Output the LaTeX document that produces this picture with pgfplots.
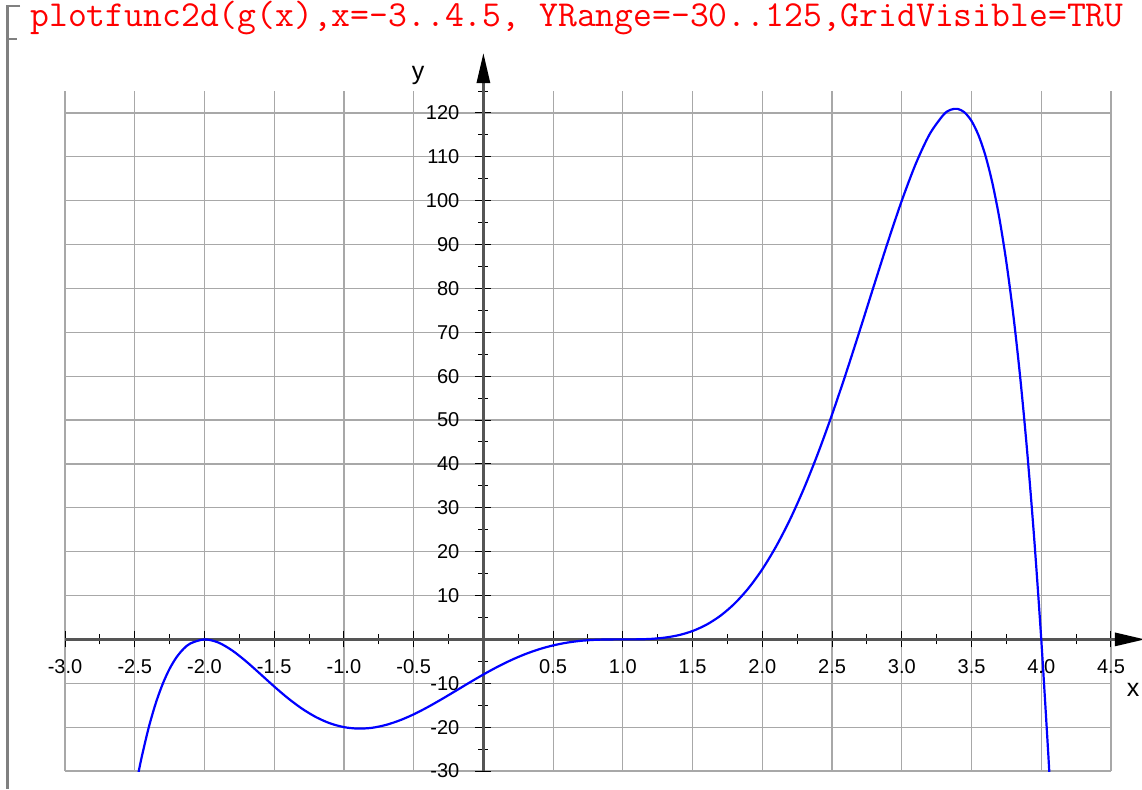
\documentclass[border=0pt]{standalone}
\usepackage{pgfplots}
\pgfplotsset{compat=1.18}
\usepackage{fontspec}
\setmainfont{Liberation Sans}
\usetikzlibrary{arrows.meta}
\definecolor{gridc}{HTML}{A8A8A8}
\definecolor{axc}{HTML}{555555}
\definecolor{brk}{HTML}{808080}
\begin{document}
\begin{tikzpicture}
\path[use as bounding box] (0,0) rectangle (571pt,394.5pt);
\draw[brk, line width=1.3pt] (10pt,391.5pt) -- (3.7pt,391.5pt) -- (3.7pt,0pt);
\draw[brk, line width=1.3pt] (3.7pt,375pt) -- (8.5pt,375pt);
\node[anchor=base west, inner sep=0pt, text=red, font=\ttfamily\fontsize{18.3}{20}\selectfont] at (15pt,381pt) {plotfunc2d(g(x),x=-3..4.5, YRange=-30..125,GridVisible=TRU};
\begin{axis}[
  at={(32.5pt,9pt)}, anchor=south west,
  width=523pt, height=340pt, scale only axis,
  xmin=-3, xmax=4.5, ymin=-30, ymax=125,
  enlargelimits=false,
  axis lines=middle,
  x axis line style={axc, line width=1.4pt, -{Triangle[length=15pt,width=6.5pt,black]}, shorten >=-17pt},
  y axis line style={axc, line width=1.4pt, -{Triangle[length=15pt,width=6.5pt,black]}, shorten >=-19pt},
  xtick={-3,-2.5,-2,-1.5,-1,-0.5,0.5,1,1.5,2,2.5,3,3.5,4,4.5},
  xticklabels={-3.0,-2.5,-2.0,-1.5,-1.0,-0.5,0.5,1.0,1.5,2.0,2.5,3.0,3.5,4.0,4.5},
  minor xtick={-2.75,-2.25,-1.75,-1.25,-0.75,-0.25,0.25,0.75,1.25,1.75,2.25,2.75,3.25,3.75,4.25},
  ytick={-30,-20,-10,10,20,30,40,50,60,70,80,90,100,110,120},
  yticklabels={-30,-20,-10,10,20,30,40,50,60,70,80,90,100,110,120},
  minor ytick={-25,-15,-5,5,15,25,35,45,55,65,75,85,95,105,115,125},
  tick align=center,
  major tick length=8pt, minor tick length=5pt,
  tick style={black, line width=0.5pt},
  grid=major,
  major grid style={gridc, line width=0.6pt},
  ticklabel style={font=\fontsize{10}{12}\selectfont},
  xticklabel style={yshift=-2.5pt},
  yticklabel style={xshift=-4.5pt},
]
\addplot[blue, line width=1.1pt, smooth, tension=0.5] coordinates {
(-2.5,-34.84) (-2.48,-31.46) (-2.45,-26.82) (-2.4,-20.12) (-2.35,-14.62) (-2.3,-10.19) (-2.25,-6.70)
(-2.2,-4.06) (-2.15,-2.16) (-2.1,-0.91) (-2.0,0) (-1.9,-0.72) (-1.8,-2.55) (-1.7,-5.05)
(-1.6,-7.87) (-1.5,-10.74) (-1.4,-13.44) (-1.3,-15.80) (-1.2,-17.72) (-1.1,-19.13)
(-1.0,-20.00) (-0.9,-20.33) (-0.8,-20.16) (-0.7,-19.51) (-0.6,-18.46) (-0.5,-17.09)
(-0.4,-15.45) (-0.3,-13.65) (-0.2,-11.76) (-0.1,-9.85) (0.0,-8.00) (0.1,-6.27)
(0.2,-4.71) (0.3,-3.36) (0.4,-2.24) (0.5,-1.37) (0.6,-0.74) (0.7,-0.32) (0.8,-0.10)
(0.9,-0.01) (1.0,0) (1.1,0.01) (1.2,0.11) (1.3,0.40) (1.4,0.96) (1.5,1.91) (1.6,3.36)
(1.7,5.40) (1.8,8.13) (1.9,11.64) (2.0,16.00) (2.1,21.26) (2.2,27.43) (2.3,34.53)
(2.4,42.50) (2.5,51.26) (2.6,60.67) (2.7,70.54) (2.8,80.62) (2.9,90.58) (3.0,100.00)
(3.1,108.40) (3.2,115.17) (3.3,119.62) (3.35,120.72) (3.4,120.93) (3.45,120.12)
(3.5,118.16) (3.55,114.92) (3.6,110.24) (3.65,103.96) (3.7,95.93) (3.75,85.95)
(3.8,73.85) (3.85,59.42) (3.9,42.45) (3.95,22.72) (4.0,0) (4.05,-25.96) (4.07,-37.43)
};
\end{axis}
\node[font=\fontsize{12.5}{14}\selectfont] at (566.5pt,49.5pt) {x};
\node[font=\fontsize{12.5}{14}\selectfont] at (209pt,357pt) {y};
\end{tikzpicture}
\end{document}
